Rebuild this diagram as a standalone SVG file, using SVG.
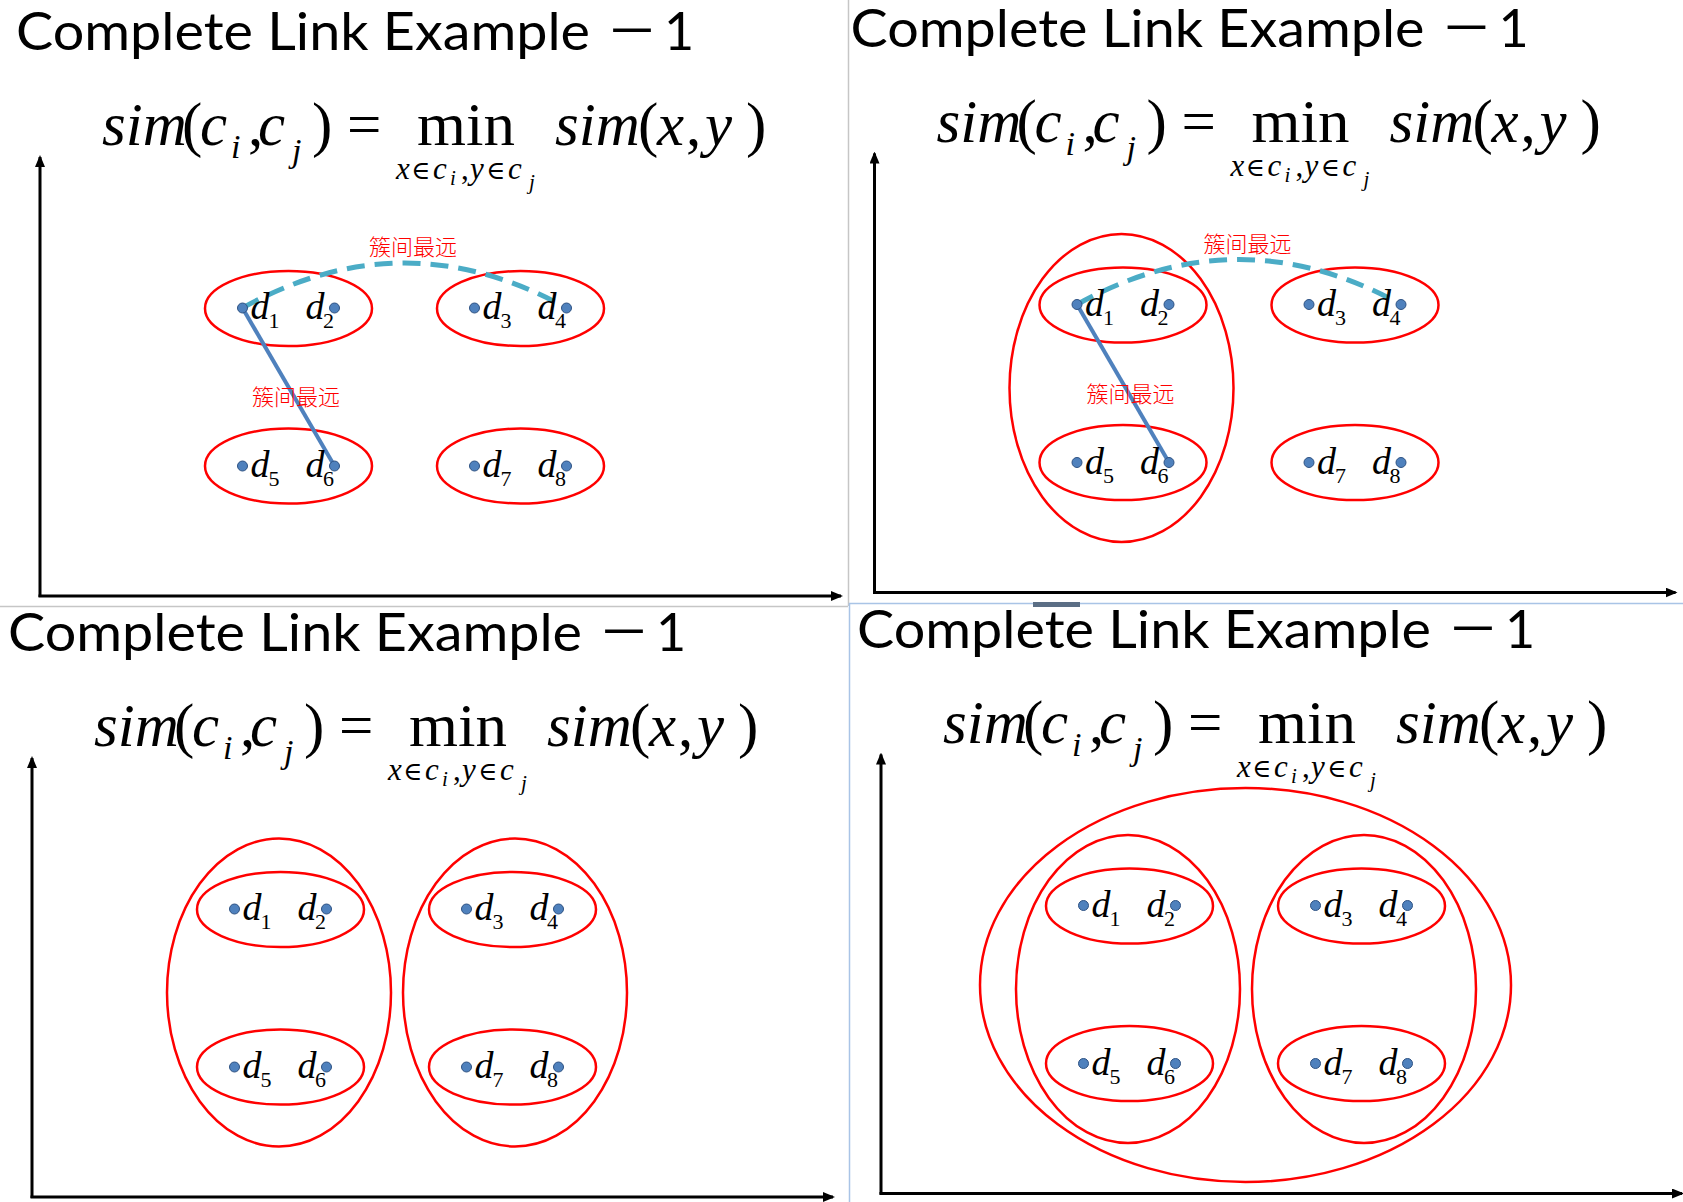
<svg xmlns="http://www.w3.org/2000/svg" width="1683" height="1202" viewBox="0 0 1683 1202">
<style>
.title{font-family:Lato,"Noto Sans CJK SC",sans-serif;font-size:52px;fill:#000}
.dash1{font-family:"Noto Sans CJK SC",sans-serif;font-size:52px;fill:#000}
.f{font-family:"Liberation Serif","DejaVu Serif",serif;font-size:61px;fill:#000}
.fs{font-size:31px}
.sub{font-size:34px}
.ss{font-size:21px}
.sym{font-family:"DejaVu Serif",serif;font-size:26px}
.it{font-style:italic}
.ell{fill:none;stroke:#FF0000;stroke-width:2.5}
.dot{fill:#4F81BD;stroke:#2E5283;stroke-width:1}
.dl{font-family:"Liberation Serif","DejaVu Serif",serif;font-style:italic;font-size:38px;fill:#000}
.dn{font-style:normal;font-size:22px}
.lab{font-family:"Noto Sans CJK SC",sans-serif;font-weight:300;font-size:22px;fill:#FF0000;text-anchor:middle}
.axis{stroke:#000;stroke-width:3;fill:none}
.far{stroke:#4BACC6;stroke-width:5;stroke-dasharray:18 10;fill:none}
.near{stroke:#4F81BD;stroke-width:4;fill:none}
</style>
<defs>
<marker id="arr" viewBox="0 0 12 10" refX="10" refY="5" markerWidth="12" markerHeight="10" markerUnits="userSpaceOnUse" orient="auto">
<path d="M0,0 L12,5 L0,10 Z" fill="#000"/>
</marker>
</defs>
<rect x="0" y="0" width="1683" height="1202" fill="#FFFFFF"/>

<g id="frames">
<line x1="848.5" y1="0" x2="848.5" y2="606" stroke="#C6C6C6" stroke-width="1.5"/>
<line x1="0" y1="606.5" x2="848" y2="606.5" stroke="#C6C6C6" stroke-width="1.5"/>
<line x1="849" y1="603.5" x2="1683" y2="603.5" stroke="#A9C4E6" stroke-width="1.5"/>
<line x1="849.5" y1="603" x2="849.5" y2="1202" stroke="#A9C4E6" stroke-width="1.5"/>
<rect x="1033" y="602" width="47" height="5" fill="#5B6E85"/>
</g>

<!-- ===================== PANEL 1 ===================== -->
<g id="panel1">
<g id="p1-title">
<text class="title" x="16" y="50" textLength="574" lengthAdjust="spacingAndGlyphs">Complete Link Example</text>
<text class="dash1" x="606" y="50">－</text>
<text class="title" x="664" y="50">1</text>
</g>
<g id="p1-formula">
<text class="f" y="145"><tspan x="102" class="it">sim</tspan><tspan x="182">(</tspan><tspan x="200" class="it">c</tspan><tspan x="231" y="158" class="it sub">i</tspan><tspan x="248" y="145">,</tspan><tspan x="258" class="it">c</tspan><tspan x="292" y="162" class="it sub">j</tspan><tspan x="312" y="145">)</tspan><tspan x="347">=</tspan><tspan x="417" textLength="98" lengthAdjust="spacingAndGlyphs">min</tspan><tspan x="555" class="it">sim</tspan><tspan x="638">(</tspan><tspan x="657" class="it">x</tspan><tspan x="686">,</tspan><tspan x="705" class="it">y</tspan><tspan x="746">)</tspan></text>
<text class="f fs" y="179"><tspan x="396" class="it">x</tspan><tspan x="411" class="sym">∈</tspan><tspan x="433" class="it">c</tspan><tspan x="450" y="185" class="it ss">i</tspan><tspan x="461" y="179">,</tspan><tspan x="470" class="it">y</tspan><tspan x="486" class="sym">∈</tspan><tspan x="508" class="it">c</tspan><tspan x="529" y="189" class="it ss">j</tspan></text>
</g>
<g id="p1-axes">
<line class="axis" x1="40" y1="597" x2="40" y2="157" marker-end="url(#arr)"/>
<line class="axis" x1="38.5" y1="596" x2="841" y2="596" marker-end="url(#arr)"/>
</g>
<g id="p1-clusters">
<ellipse id="p1-c12" class="ell" cx="288.5" cy="308.5" rx="83.5" ry="37.5"/>
<ellipse id="p1-c34" class="ell" cx="520.5" cy="308.5" rx="83.5" ry="37.5"/>
<ellipse id="p1-c56" class="ell" cx="288.5" cy="466" rx="83.5" ry="37.5"/>
<ellipse id="p1-c78" class="ell" cx="520.5" cy="466" rx="83.5" ry="37.5"/>
</g>
<g id="p1-connectors">
<path class="far" d="M242.5,308 Q404.5,218 566.5,308"/>
<line class="near" x1="242.5" y1="308" x2="334.5" y2="466"/>
<text class="lab" x="413" y="255">簇间最远</text>
<text class="lab" x="296" y="405">簇间最远</text>
</g>
<g id="p1-d1"><text class="dl" x="250.5" y="319">d<tspan class="dn" x="268.5" y="328">1</tspan></text><circle class="dot" cx="242.5" cy="308" r="5"/></g>
<g id="p1-d2"><text class="dl" x="305.5" y="319">d<tspan class="dn" x="323" y="328">2</tspan></text><circle class="dot" cx="334.5" cy="308" r="5"/></g>
<g id="p1-d3"><text class="dl" x="482.5" y="319">d<tspan class="dn" x="500.5" y="328">3</tspan></text><circle class="dot" cx="474.5" cy="308" r="5"/></g>
<g id="p1-d4"><text class="dl" x="537.5" y="319">d<tspan class="dn" x="555" y="328">4</tspan></text><circle class="dot" cx="566.5" cy="308" r="5"/></g>
<g id="p1-d5"><text class="dl" x="250.5" y="477">d<tspan class="dn" x="268.5" y="486">5</tspan></text><circle class="dot" cx="242.5" cy="466" r="5"/></g>
<g id="p1-d6"><text class="dl" x="305.5" y="477">d<tspan class="dn" x="323" y="486">6</tspan></text><circle class="dot" cx="334.5" cy="466" r="5"/></g>
<g id="p1-d7"><text class="dl" x="482.5" y="477">d<tspan class="dn" x="500.5" y="486">7</tspan></text><circle class="dot" cx="474.5" cy="466" r="5"/></g>
<g id="p1-d8"><text class="dl" x="537.5" y="477">d<tspan class="dn" x="555" y="486">8</tspan></text><circle class="dot" cx="566.5" cy="466" r="5"/></g>
</g>

<!-- ===================== PANEL 2 ===================== -->
<g id="panel2" transform="translate(834.5,-3.5)">
<g id="p2-title">
<text class="title" x="16" y="50" textLength="574" lengthAdjust="spacingAndGlyphs">Complete Link Example</text>
<text class="dash1" x="606" y="50">－</text>
<text class="title" x="664" y="50">1</text>
</g>
<g id="p2-formula">
<text class="f" y="145"><tspan x="102" class="it">sim</tspan><tspan x="182">(</tspan><tspan x="200" class="it">c</tspan><tspan x="231" y="158" class="it sub">i</tspan><tspan x="248" y="145">,</tspan><tspan x="258" class="it">c</tspan><tspan x="292" y="162" class="it sub">j</tspan><tspan x="312" y="145">)</tspan><tspan x="347">=</tspan><tspan x="417" textLength="98" lengthAdjust="spacingAndGlyphs">min</tspan><tspan x="555" class="it">sim</tspan><tspan x="638">(</tspan><tspan x="657" class="it">x</tspan><tspan x="686">,</tspan><tspan x="705" class="it">y</tspan><tspan x="746">)</tspan></text>
<text class="f fs" y="179"><tspan x="396" class="it">x</tspan><tspan x="411" class="sym">∈</tspan><tspan x="433" class="it">c</tspan><tspan x="450" y="185" class="it ss">i</tspan><tspan x="461" y="179">,</tspan><tspan x="470" class="it">y</tspan><tspan x="486" class="sym">∈</tspan><tspan x="508" class="it">c</tspan><tspan x="529" y="189" class="it ss">j</tspan></text>
</g>
<g id="p2-axes">
<line class="axis" x1="40" y1="597" x2="40" y2="157" marker-end="url(#arr)"/>
<line class="axis" x1="38.5" y1="596" x2="841" y2="596" marker-end="url(#arr)"/>
</g>
<g id="p2-clusters">
<ellipse id="p2-c1256" class="ell" cx="287" cy="391.5" rx="112" ry="154"/>
<ellipse id="p2-c12" class="ell" cx="288.5" cy="308.5" rx="83.5" ry="37.5"/>
<ellipse id="p2-c34" class="ell" cx="520.5" cy="308.5" rx="83.5" ry="37.5"/>
<ellipse id="p2-c56" class="ell" cx="288.5" cy="466" rx="83.5" ry="37.5"/>
<ellipse id="p2-c78" class="ell" cx="520.5" cy="466" rx="83.5" ry="37.5"/>
</g>
<g id="p2-connectors">
<path class="far" d="M242.5,308 Q404.5,218 566.5,308"/>
<line class="near" x1="242.5" y1="308" x2="334.5" y2="466"/>
<text class="lab" x="413" y="255">簇间最远</text>
<text class="lab" x="296" y="405">簇间最远</text>
</g>
<g id="p2-d1"><text class="dl" x="250.5" y="319">d<tspan class="dn" x="268.5" y="328">1</tspan></text><circle class="dot" cx="242.5" cy="308" r="5"/></g>
<g id="p2-d2"><text class="dl" x="305.5" y="319">d<tspan class="dn" x="323" y="328">2</tspan></text><circle class="dot" cx="334.5" cy="308" r="5"/></g>
<g id="p2-d3"><text class="dl" x="482.5" y="319">d<tspan class="dn" x="500.5" y="328">3</tspan></text><circle class="dot" cx="474.5" cy="308" r="5"/></g>
<g id="p2-d4"><text class="dl" x="537.5" y="319">d<tspan class="dn" x="555" y="328">4</tspan></text><circle class="dot" cx="566.5" cy="308" r="5"/></g>
<g id="p2-d5"><text class="dl" x="250.5" y="477">d<tspan class="dn" x="268.5" y="486">5</tspan></text><circle class="dot" cx="242.5" cy="466" r="5"/></g>
<g id="p2-d6"><text class="dl" x="305.5" y="477">d<tspan class="dn" x="323" y="486">6</tspan></text><circle class="dot" cx="334.5" cy="466" r="5"/></g>
<g id="p2-d7"><text class="dl" x="482.5" y="477">d<tspan class="dn" x="500.5" y="486">7</tspan></text><circle class="dot" cx="474.5" cy="466" r="5"/></g>
<g id="p2-d8"><text class="dl" x="537.5" y="477">d<tspan class="dn" x="555" y="486">8</tspan></text><circle class="dot" cx="566.5" cy="466" r="5"/></g>
</g>

<!-- ===================== PANEL 3 ===================== -->
<g id="panel3" transform="translate(-8,601)">
<g id="p3-title">
<text class="title" x="16" y="50" textLength="574" lengthAdjust="spacingAndGlyphs">Complete Link Example</text>
<text class="dash1" x="606" y="50">－</text>
<text class="title" x="664" y="50">1</text>
</g>
<g id="p3-formula">
<text class="f" y="145"><tspan x="102" class="it">sim</tspan><tspan x="182">(</tspan><tspan x="200" class="it">c</tspan><tspan x="231" y="158" class="it sub">i</tspan><tspan x="248" y="145">,</tspan><tspan x="258" class="it">c</tspan><tspan x="292" y="162" class="it sub">j</tspan><tspan x="312" y="145">)</tspan><tspan x="347">=</tspan><tspan x="417" textLength="98" lengthAdjust="spacingAndGlyphs">min</tspan><tspan x="555" class="it">sim</tspan><tspan x="638">(</tspan><tspan x="657" class="it">x</tspan><tspan x="686">,</tspan><tspan x="705" class="it">y</tspan><tspan x="746">)</tspan></text>
<text class="f fs" y="179"><tspan x="396" class="it">x</tspan><tspan x="411" class="sym">∈</tspan><tspan x="433" class="it">c</tspan><tspan x="450" y="185" class="it ss">i</tspan><tspan x="461" y="179">,</tspan><tspan x="470" class="it">y</tspan><tspan x="486" class="sym">∈</tspan><tspan x="508" class="it">c</tspan><tspan x="529" y="189" class="it ss">j</tspan></text>
</g>
<g id="p3-axes">
<line class="axis" x1="40" y1="597" x2="40" y2="157" marker-end="url(#arr)"/>
<line class="axis" x1="38.5" y1="596" x2="841" y2="596" marker-end="url(#arr)"/>
</g>
<g id="p3-clusters">
<ellipse id="p3-c1256" class="ell" cx="287" cy="391.5" rx="112" ry="154"/>
<ellipse id="p3-c3478" class="ell" cx="523" cy="391.5" rx="112" ry="154"/>
<ellipse id="p3-c12" class="ell" cx="288.5" cy="308.5" rx="83.5" ry="37.5"/>
<ellipse id="p3-c34" class="ell" cx="520.5" cy="308.5" rx="83.5" ry="37.5"/>
<ellipse id="p3-c56" class="ell" cx="288.5" cy="466" rx="83.5" ry="37.5"/>
<ellipse id="p3-c78" class="ell" cx="520.5" cy="466" rx="83.5" ry="37.5"/>
</g>
<g id="p3-d1"><text class="dl" x="250.5" y="319">d<tspan class="dn" x="268.5" y="328">1</tspan></text><circle class="dot" cx="242.5" cy="308" r="5"/></g>
<g id="p3-d2"><text class="dl" x="305.5" y="319">d<tspan class="dn" x="323" y="328">2</tspan></text><circle class="dot" cx="334.5" cy="308" r="5"/></g>
<g id="p3-d3"><text class="dl" x="482.5" y="319">d<tspan class="dn" x="500.5" y="328">3</tspan></text><circle class="dot" cx="474.5" cy="308" r="5"/></g>
<g id="p3-d4"><text class="dl" x="537.5" y="319">d<tspan class="dn" x="555" y="328">4</tspan></text><circle class="dot" cx="566.5" cy="308" r="5"/></g>
<g id="p3-d5"><text class="dl" x="250.5" y="477">d<tspan class="dn" x="268.5" y="486">5</tspan></text><circle class="dot" cx="242.5" cy="466" r="5"/></g>
<g id="p3-d6"><text class="dl" x="305.5" y="477">d<tspan class="dn" x="323" y="486">6</tspan></text><circle class="dot" cx="334.5" cy="466" r="5"/></g>
<g id="p3-d7"><text class="dl" x="482.5" y="477">d<tspan class="dn" x="500.5" y="486">7</tspan></text><circle class="dot" cx="474.5" cy="466" r="5"/></g>
<g id="p3-d8"><text class="dl" x="537.5" y="477">d<tspan class="dn" x="555" y="486">8</tspan></text><circle class="dot" cx="566.5" cy="466" r="5"/></g>
</g>

<!-- ===================== PANEL 4 ===================== -->
<g id="panel4" transform="translate(841,597.5)">
<g id="p4-title">
<text class="title" x="16" y="50" textLength="574" lengthAdjust="spacingAndGlyphs">Complete Link Example</text>
<text class="dash1" x="606" y="50">－</text>
<text class="title" x="664" y="50">1</text>
</g>
<g id="p4-formula">
<text class="f" y="145"><tspan x="102" class="it">sim</tspan><tspan x="182">(</tspan><tspan x="200" class="it">c</tspan><tspan x="231" y="158" class="it sub">i</tspan><tspan x="248" y="145">,</tspan><tspan x="258" class="it">c</tspan><tspan x="292" y="162" class="it sub">j</tspan><tspan x="312" y="145">)</tspan><tspan x="347">=</tspan><tspan x="417" textLength="98" lengthAdjust="spacingAndGlyphs">min</tspan><tspan x="555" class="it">sim</tspan><tspan x="638">(</tspan><tspan x="657" class="it">x</tspan><tspan x="686">,</tspan><tspan x="705" class="it">y</tspan><tspan x="746">)</tspan></text>
<text class="f fs" y="179"><tspan x="396" class="it">x</tspan><tspan x="411" class="sym">∈</tspan><tspan x="433" class="it">c</tspan><tspan x="450" y="185" class="it ss">i</tspan><tspan x="461" y="179">,</tspan><tspan x="470" class="it">y</tspan><tspan x="486" class="sym">∈</tspan><tspan x="508" class="it">c</tspan><tspan x="529" y="189" class="it ss">j</tspan></text>
</g>
<g id="p4-axes">
<line class="axis" x1="40" y1="597" x2="40" y2="157" marker-end="url(#arr)"/>
<line class="axis" x1="38.5" y1="596" x2="841" y2="596" marker-end="url(#arr)"/>
</g>
<g id="p4-clusters">
<ellipse id="p4-call" class="ell" cx="404.5" cy="387.5" rx="265.5" ry="197"/>
<ellipse id="p4-c1256" class="ell" cx="287" cy="391.5" rx="112" ry="154"/>
<ellipse id="p4-c3478" class="ell" cx="523" cy="391.5" rx="112" ry="154"/>
<ellipse id="p4-c12" class="ell" cx="288.5" cy="308.5" rx="83.5" ry="37.5"/>
<ellipse id="p4-c34" class="ell" cx="520.5" cy="308.5" rx="83.5" ry="37.5"/>
<ellipse id="p4-c56" class="ell" cx="288.5" cy="466" rx="83.5" ry="37.5"/>
<ellipse id="p4-c78" class="ell" cx="520.5" cy="466" rx="83.5" ry="37.5"/>
</g>
<g id="p4-d1"><text class="dl" x="250.5" y="319">d<tspan class="dn" x="268.5" y="328">1</tspan></text><circle class="dot" cx="242.5" cy="308" r="5"/></g>
<g id="p4-d2"><text class="dl" x="305.5" y="319">d<tspan class="dn" x="323" y="328">2</tspan></text><circle class="dot" cx="334.5" cy="308" r="5"/></g>
<g id="p4-d3"><text class="dl" x="482.5" y="319">d<tspan class="dn" x="500.5" y="328">3</tspan></text><circle class="dot" cx="474.5" cy="308" r="5"/></g>
<g id="p4-d4"><text class="dl" x="537.5" y="319">d<tspan class="dn" x="555" y="328">4</tspan></text><circle class="dot" cx="566.5" cy="308" r="5"/></g>
<g id="p4-d5"><text class="dl" x="250.5" y="477">d<tspan class="dn" x="268.5" y="486">5</tspan></text><circle class="dot" cx="242.5" cy="466" r="5"/></g>
<g id="p4-d6"><text class="dl" x="305.5" y="477">d<tspan class="dn" x="323" y="486">6</tspan></text><circle class="dot" cx="334.5" cy="466" r="5"/></g>
<g id="p4-d7"><text class="dl" x="482.5" y="477">d<tspan class="dn" x="500.5" y="486">7</tspan></text><circle class="dot" cx="474.5" cy="466" r="5"/></g>
<g id="p4-d8"><text class="dl" x="537.5" y="477">d<tspan class="dn" x="555" y="486">8</tspan></text><circle class="dot" cx="566.5" cy="466" r="5"/></g>
</g>
</svg>
